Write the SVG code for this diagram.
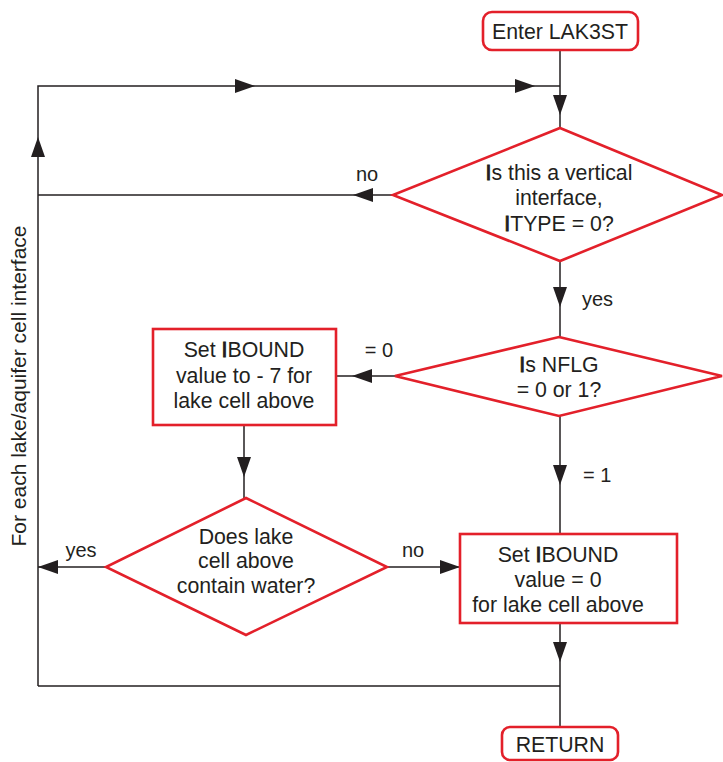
<svg xmlns="http://www.w3.org/2000/svg" width="723" height="762" viewBox="0 0 723 762">
<style>
.shape{fill:#fff;stroke:#e3202a;stroke-width:2.6;stroke-linejoin:miter}
.t{font-family:"Liberation Sans",Arial,sans-serif;font-size:21.3px;fill:#231f20;text-anchor:middle}
.l{font-family:"Liberation Sans",Arial,sans-serif;font-size:20px;fill:#231f20}
.c{fill:none;stroke:#231f20;stroke-width:1.5}
.b{stroke:#231f20;stroke-width:0.9}
</style>
<defs>
<marker id="ah" markerUnits="userSpaceOnUse" markerWidth="20" markerHeight="14" refX="20" refY="7" orient="auto">
<path d="M0,0 L20,7 L0,14 Z" fill="#231f20"/>
</marker>
</defs>
<rect width="723" height="762" fill="#fff"/>
<g id="connectors">
<path class="c" d="M560,50 V115" marker-end="url(#ah)"/>
<path class="c" d="M560,115 V128"/>
<path class="c" d="M38,686 V137" marker-end="url(#ah)"/>
<path class="c" d="M38,137 V86 H255" marker-end="url(#ah)"/>
<path class="c" d="M255,86 H535" marker-end="url(#ah)"/>
<path class="c" d="M535,86 H560"/>
<path class="c" d="M393,195 H353" marker-end="url(#ah)"/>
<path class="c" d="M353,195 H38"/>
<path class="c" d="M560,261 V307" marker-end="url(#ah)"/>
<path class="c" d="M560,307 V337"/>
<path class="c" d="M395,376 H352" marker-end="url(#ah)"/>
<path class="c" d="M352,376 H337"/>
<path class="c" d="M244,425 V477" marker-end="url(#ah)"/>
<path class="c" d="M244,477 V498"/>
<path class="c" d="M560,416 V485" marker-end="url(#ah)"/>
<path class="c" d="M560,485 V534"/>
<path class="c" d="M106,567 H38" marker-end="url(#ah)"/>
<path class="c" d="M387,567 H460" marker-end="url(#ah)"/>
<path class="c" d="M560,623 V662" marker-end="url(#ah)"/>
<path class="c" d="M560,662 V727"/>
<path class="c" d="M38,686 H560"/>
<text class="l" x="367" y="181" text-anchor="middle">no</text>
<text class="l" x="582" y="306">yes</text>
<text class="l" x="379" y="357" text-anchor="middle">= 0</text>
<text class="l" x="583" y="482">= 1</text>
<text class="l" x="81" y="557" text-anchor="middle">yes</text>
<text class="l" x="413" y="557" text-anchor="middle">no</text>
<text class="l" transform="translate(26,386) rotate(-90)" text-anchor="middle" style="font-size:21px">For each lake/aquifer cell interface</text>
</g>
<g id="enter">
<rect class="shape" x="483" y="12" width="155" height="38" rx="9"/>
<text class="t" x="560" y="39">Enter LAK3ST</text>
</g>
<g id="vertical">
<polygon class="shape" points="560,128 722,195 560,261 393,195"/>
<text class="t" x="559" y="180"><tspan class="b">I</tspan>s this a vertical</text>
<text class="t" x="559" y="205">interface,</text>
<text class="t" x="559" y="231"><tspan class="b">I</tspan>TYPE = 0?</text>
</g>
<g id="nflg">
<polygon class="shape" points="559,337 722,376 559,416 395,376"/>
<text class="t" x="559" y="372"><tspan class="b">I</tspan>s NFLG</text>
<text class="t" x="559" y="397">= 0 or 1?</text>
</g>
<g id="set7">
<rect class="shape" x="153" y="329" width="183" height="96"/>
<text class="t" x="244" y="357">Set <tspan class="b">I</tspan>BOUND</text>
<text class="t" x="244" y="383">value to - 7 for</text>
<text class="t" x="244" y="408">lake cell above</text>
</g>
<g id="water">
<polygon class="shape" points="246,498 387,567 246,635 106,567"/>
<text class="t" x="246" y="544">Does lake</text>
<text class="t" x="246" y="568">cell above</text>
<text class="t" x="246" y="593">contain water?</text>
</g>
<g id="set0">
<rect class="shape" x="460" y="534" width="217" height="89"/>
<text class="t" x="558" y="562">Set <tspan class="b">I</tspan>BOUND</text>
<text class="t" x="558" y="587">value = 0</text>
<text class="t" x="558" y="612">for lake cell above</text>
</g>
<g id="return">
<rect class="shape" x="502" y="727" width="116" height="33" rx="8"/>
<text class="t" x="560" y="752">RETURN</text>
</g>
</svg>
